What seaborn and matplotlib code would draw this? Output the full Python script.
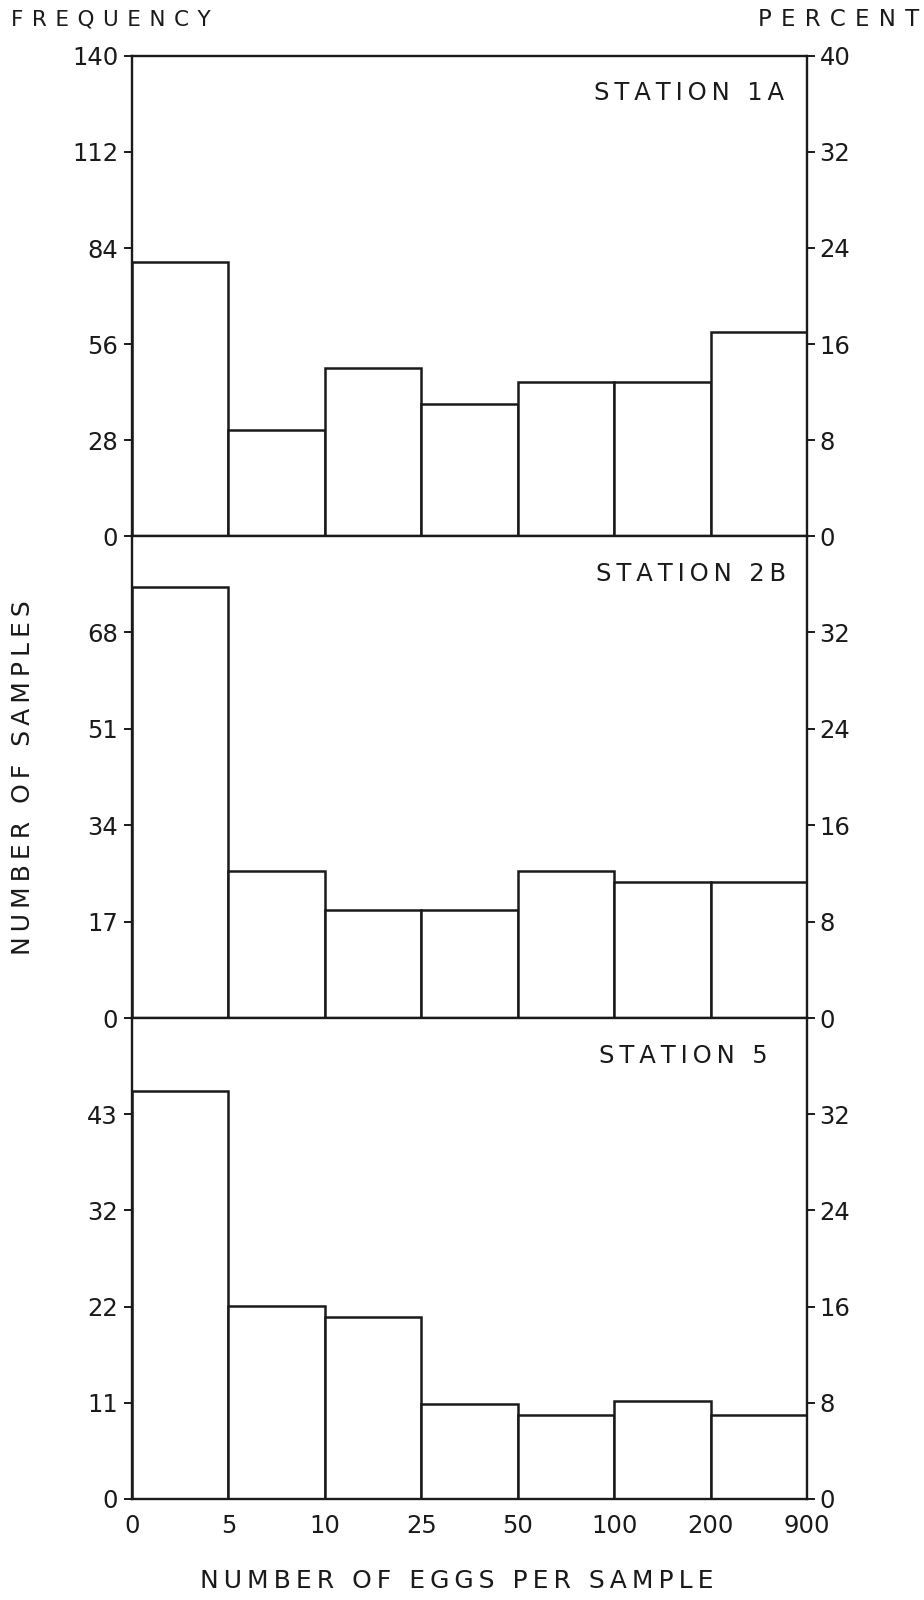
import numpy as np
import pandas as pd
import matplotlib
matplotlib.use("Agg")
import matplotlib.pyplot as plt
import seaborn as sns

# ---------------- data ----------------
bins = ["0-5", "5-10", "10-25", "25-50", "50-100", "100-200", "200-900"]
edge_labels = ["0", "5", "10", "25", "50", "100", "200", "900"]
stations = ["STATION 1A", "STATION 2B", "STATION 5"]
station_1a = [80, 31, 49, 38.5, 45, 45, 59.5]
station_2b = [76, 26, 19, 19, 26, 24, 24]
station_5 = [45.6, 21.6, 20.3, 10.6, 9.4, 10.9, 9.4]
freq_labels_1a = [0, 28, 56, 84, 112, 140]
freq_labels_2b = [0, 17, 34, 51, 68]
freq_labels_5 = [0, 11, 22, 32, 43]
pct_labels_top = [0, 8, 16, 24, 32, 40]
pct_labels = [0, 8, 16, 24, 32]

df = pd.concat([
    pd.DataFrame({"station": st, "bin": bins, "count": vals})
    for st, vals in zip(stations, [station_1a, station_2b, station_5])
])

sns.set_theme(style="white")
plt.rcParams["font.family"] = ["DejaVu Sans"]

INK = "#1a1a1a"

def track(s, sep="\u2009", word="\u2009 \u2009"):
    return word.join(sep.join(w) for w in s.split(" "))

W, H = 924, 1600
fig = plt.figure(figsize=(W / 100, H / 100), dpi=100)
fig.patch.set_facecolor("white")

x0, x1 = 132, 807
bounds = [(56, 536), (536, 1018), (1018, 1499)]

ylims = [140, 85, freq_labels_5[-1] / 0.8]
freq_sets = [freq_labels_1a, freq_labels_2b, freq_labels_5]
station_pos = [(784, 93), (786, 574), (768, 1056)]
TICK_FS = 17.5

for i, st in enumerate(stations):
    y1, y2 = bounds[i]
    ax = fig.add_axes([x0 / W, 1 - y2 / H, (x1 - x0) / W, (y2 - y1) / H])
    sub = df[df.station == st]
    sns.barplot(data=sub, x="bin", y="count", order=bins, ax=ax,
                color="white", edgecolor=INK, linewidth=1.8, width=1.0,
                saturation=1, errorbar=None)
    labels = freq_sets[i]
    ymax = ylims[i]
    ax.set_xlim(-0.5, len(bins) - 0.5)
    ax.set_ylim(0, ymax)
    if i == 2:
        pos = np.linspace(0, ymax * 0.8, 5)
    else:
        pos = labels
    ax.set_yticks(pos)
    ax.set_yticklabels([str(v) for v in labels])
    ax.set_ylabel("")
    ax.set_xlabel("")
    for sp in ax.spines.values():
        sp.set_visible(True)
        sp.set_color(INK)
        sp.set_linewidth(1.7)
    ax.tick_params(axis="y", direction="out", length=6, width=1.4, pad=4,
                   labelsize=TICK_FS, colors=INK, left=True)
    if i < 2:
        ax.set_xticks([])
    else:
        ax.set_xticks(np.arange(len(edge_labels)) - 0.5)
        ax.set_xticklabels(edge_labels)
        ax.tick_params(axis="x", length=0, pad=11, labelsize=TICK_FS, colors=INK)

    ax2 = ax.twinx()
    ax2.set_ylim(0, 40)
    pl = pct_labels_top if i == 0 else pct_labels
    ax2.set_yticks(pl)
    ax2.set_yticklabels([str(v) for v in pl])
    ax2.tick_params(axis="y", direction="out", length=6, width=1.4, pad=3,
                    labelsize=TICK_FS, colors=INK, right=True)
    for sp in ax2.spines.values():
        sp.set_visible(False)
    ax2.grid(False)
    ax.grid(False)

    tx, ty = station_pos[i]
    fig.text(tx / W, 1 - ty / H, track(st), ha="right", va="center",
             fontsize=17.5, color=INK)

fig.text(11 / W, 1 - 19 / H, track("FREQUENCY", sep="\u2009\u2009"), ha="left",
         va="center", fontsize=15.5, color=INK)
fig.text(919 / W, 1 - 19 / H, track("PERCENT", sep="\u2009\u2009"), ha="right",
         va="center", fontsize=16.5, color=INK)
fig.text(23 / W, 1 - 778 / H,
         track("NUMBER OF SAMPLES", sep="\u2009", word="\u2009 \u2009"),
         rotation=90, ha="center", va="center", fontsize=18, color=INK)
fig.text(457 / W, 1 - 1581 / H,
         track("NUMBER OF EGGS PER SAMPLE", sep="\u2009", word="\u2009 \u2009"),
         ha="center", va="center", fontsize=18, color=INK)

fig.savefig("out.png", dpi=100, facecolor="white")
